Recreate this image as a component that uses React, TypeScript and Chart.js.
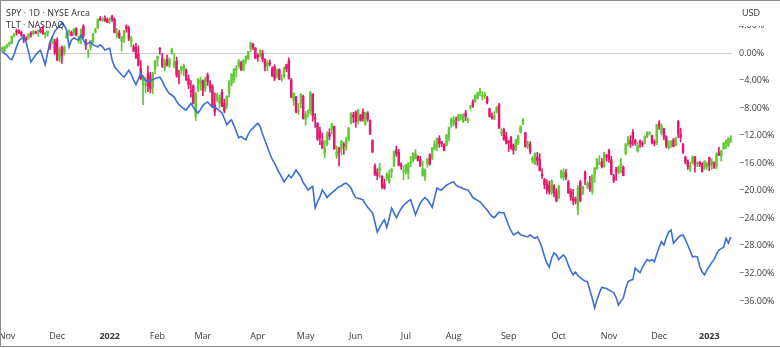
import React, { useEffect, useRef } from 'react';
import { Chart, registerables } from 'chart.js';

Chart.register(...registerables);

// ---- categories: trading days ----
const MONTHS = ['2021-10', '2021-11', '2021-12', '2022-01', '2022-02', '2022-03', '2022-04', '2022-05', '2022-06', '2022-07', '2022-08', '2022-09', '2022-10', '2022-11', '2022-12', '2023-01'];
const MONTH_DAYS = [
  [28, 29],
  [1, 2, 3, 4, 5, 8, 9, 10, 11, 12, 15, 16, 17, 18, 19, 22, 23, 24, 26, 29, 30],
  [1, 2, 3, 6, 7, 8, 9, 10, 13, 14, 15, 16, 17, 20, 21, 22, 23, 27, 28, 29, 30, 31],
  [3, 4, 5, 6, 7, 10, 11, 12, 13, 14, 18, 19, 20, 21, 24, 25, 26, 27, 28, 31],
  [1, 2, 3, 4, 7, 8, 9, 10, 11, 14, 15, 16, 17, 18, 22, 23, 24, 25, 28],
  [1, 2, 3, 4, 7, 8, 9, 10, 11, 14, 15, 16, 17, 18, 21, 22, 23, 24, 25, 28, 29, 30, 31],
  [1, 4, 5, 6, 7, 8, 11, 12, 13, 14, 18, 19, 20, 21, 22, 25, 26, 27, 28, 29],
  [2, 3, 4, 5, 6, 9, 10, 11, 12, 13, 16, 17, 18, 19, 20, 23, 24, 25, 26, 27, 31],
  [1, 2, 3, 6, 7, 8, 9, 10, 13, 14, 15, 16, 17, 21, 22, 23, 24, 27, 28, 29, 30],
  [1, 5, 6, 7, 8, 11, 12, 13, 14, 15, 18, 19, 20, 21, 22, 25, 26, 27, 28, 29],
  [1, 2, 3, 4, 5, 8, 9, 10, 11, 12, 15, 16, 17, 18, 19, 22, 23, 24, 25, 26, 29, 30, 31],
  [1, 2, 6, 7, 8, 9, 12, 13, 14, 15, 16, 19, 20, 21, 22, 23, 26, 27, 28, 29, 30],
  [3, 4, 5, 6, 7, 10, 11, 12, 13, 14, 17, 18, 19, 20, 21, 24, 25, 26, 27, 28, 31],
  [1, 2, 3, 4, 7, 8, 9, 10, 11, 14, 15, 16, 17, 18, 21, 22, 23, 25, 28, 29, 30],
  [1, 2, 5, 6, 7, 8, 9, 12, 13, 14, 15, 16, 19, 20, 21, 22, 23, 27, 28, 29, 30],
  [3, 4, 5, 6, 9, 10, 11, 12, 13, 17],
];
const MONTH_NAMES = ['Jan', 'Feb', 'Mar', 'Apr', 'May', 'Jun', 'Jul', 'Aug', 'Sep', 'Oct', 'Nov', 'Dec'];
const Y_TICKS = [4, 0, -4, -8, -12, -16, -20, -24, -28, -32, -36];
const LEGEND_LINES = ['SPY \u00b7 1D \u00b7 NYSE Arca', 'TLT \u00b7 NASDAQ'];
const CURRENCY = 'USD';

// ---- SPY (% change) ----
const SPY_OPEN = [
  0.3, 0.3, 1.0, 1.3, 1.5, 2.6, 3.2, 3.2, 3.0, 2.6,
  2.1, 2.2, 2.9, 2.8, 3.1, 3.0, 3.4, 3.4, 2.7, 2.7,
  1.4, 1.6, 1.6, 1.9, -0.9, 0.8, 0.1, 2.2, 3.0, 3.0,
  3.0, 3.5, 1.9, 1.9, 3.9, 1.6, -0.2, 0.8, 1.6, 3.0,
  3.6, 5.1, 4.9, 5.0, 4.8, 4.8, 5.3, 4.9, 2.8, 2.9,
  1.7, 2.1, 3.9, 3.6, 1.6, 0.9, 0.8, -0.2, -2.2, -4.6,
  -4.6, -3.0, -3.3, -5.0, -2.3, -0.9, 0.7, -0.7, -2.2, -0.9,
  -1.9, 0.0, -1.7, -1.2, -3.3, -2.5, -2.5, -2.5, -3.7, -5.5,
  -4.8, -9.2, -5.1, -4.4, -4.0, -5.1, -3.2, -4.4, -4.8, -7.6,
  -6.8, -7.3, -5.7, -7.3, -7.7, -5.8, -4.5, -3.9, -2.3, -1.9,
  -1.5, -2.4, -0.9, -0.8, 0.6, 1.3, 0.7, -0.3, -0.4, 0.0,
  -1.0, -1.9, -1.4, -2.3, -2.0, -3.4, -2.4, -3.7, -3.4, -1.7,
  -1.1, -3.9, -6.9, -6.4, -8.4, -7.3, -6.3, -9.6, -8.6, -8.4,
  -6.0, -9.4, -10.2, -11.3, -12.8, -14.5, -13.2, -11.6, -11.1, -10.7,
  -14.9, -13.9, -13.9, -13.3, -13.6, -12.6, -10.2, -9.0, -8.6, -9.8,
  -9.0, -8.6, -10.3, -8.8, -9.8, -12.7, -16.4, -17.3, -17.1, -17.9,
  -19.0, -18.2, -18.8, -17.3, -16.4, -14.0, -14.4, -16.2, -17.1, -17.2,
  -17.4, -16.0, -15.6, -15.3, -15.0, -15.4, -17.8, -18.0, -16.1, -14.8,
  -15.3, -13.9, -13.5, -12.4, -13.0, -13.3, -13.4, -12.1, -10.5, -10.2,
  -10.2, -9.8, -9.1, -10.0, -8.7, -9.6, -7.9, -7.1, -7.0, -6.5,
  -5.9, -6.2, -6.2, -6.5, -8.1, -9.2, -9.6, -8.6, -7.5, -11.6,
  -11.1, -12.1, -12.8, -12.3, -13.4, -14.1, -13.0, -11.5, -10.3, -11.6,
  -13.3, -13.2, -15.7, -16.1, -15.1, -15.4, -17.6, -18.3, -19.0, -19.2,
  -20.3, -19.3, -20.1, -21.0, -18.0, -18.1, -17.4, -18.7, -20.1, -21.0,
  -21.2, -22.7, -18.7, -20.4, -17.3, -19.3, -18.9, -20.1, -17.6, -16.8,
  -16.1, -15.8, -16.4, -14.9, -14.2, -15.5, -17.8, -16.9, -17.3, -16.4,
  -16.6, -14.6, -13.2, -12.7, -11.5, -12.7, -14.2, -12.8, -13.1, -13.0,
  -12.1, -11.7, -12.0, -12.9, -13.0, -10.2, -11.6, -11.0, -12.2, -13.6,
  -13.4, -12.6, -13.4, -10.0, -11.8, -13.3, -15.1, -15.7, -16.9, -16.0,
  -15.1, -16.0, -15.9, -16.1, -16.7, -16.5, -15.2, -16.1, -15.9, -16.4,
  -14.4, -15.0, -13.9, -13.1, -13.4, -12.8,
];
const SPY_HIGH = [
  0.9, 1.0, 1.3, 1.6, 2.5, 2.9, 3.5, 3.4, 3.2, 2.7,
  2.4, 2.8, 3.1, 3.3, 3.2, 3.3, 3.6, 3.9, 3.0, 3.2,
  1.6, 2.4, 2.0, 2.2, 0.8, 1.0, 1.1, 3.1, 3.4, 3.2,
  3.5, 3.7, 2.5, 3.5, 4.1, 2.0, 0.5, 1.8, 2.8, 3.6,
  4.9, 5.3, 5.1, 5.4, 5.1, 5.1, 5.5, 5.1, 3.6, 3.3,
  2.4, 3.3, 4.1, 3.9, 2.4, 1.2, 1.4, 1.0, -1.1, -3.3,
  -3.5, -1.9, -2.8, -2.8, -1.1, -0.4, 0.8, 0.0, -0.9, -0.3,
  -0.7, 0.6, 0.0, -0.6, -2.5, -1.9, -1.6, -2.3, -3.2, -4.0,
  -4.6, -5.7, -3.7, -3.5, -3.9, -3.5, -2.9, -4.0, -4.6, -5.8,
  -5.8, -6.1, -5.3, -6.7, -6.2, -4.0, -3.0, -2.3, -1.8, -0.9,
  -1.2, -1.0, -0.4, 0.2, 1.6, 1.4, 0.8, -0.1, 0.5, 0.4,
  -0.8, -1.1, -1.0, -2.0, -1.7, -2.3, -2.3, -3.1, -2.0, -1.6,
  -0.7, -3.7, -5.8, -6.3, -7.3, -5.9, -6.1, -8.5, -8.2, -5.6,
  -5.9, -8.8, -10.1, -10.8, -11.6, -12.7, -11.4, -11.0, -10.2, -10.6,
  -13.5, -13.7, -12.7, -13.0, -12.2, -10.8, -8.7, -8.6, -8.4, -8.2,
  -8.9, -8.1, -8.6, -8.5, -9.7, -12.6, -16.1, -16.8, -16.0, -17.8,
  -18.3, -17.4, -17.0, -16.7, -14.2, -13.5, -14.0, -15.9, -16.4, -16.2,
  -15.9, -15.0, -14.5, -14.0, -14.9, -15.0, -15.7, -16.8, -15.3, -14.6,
  -13.7, -12.7, -12.3, -12.0, -12.8, -13.2, -11.8, -10.7, -9.4, -9.2,
  -9.3, -8.9, -8.9, -8.8, -8.3, -9.4, -7.6, -6.8, -6.1, -5.7,
  -5.1, -5.6, -5.7, -6.3, -8.0, -8.7, -8.5, -7.8, -7.3, -11.0,
  -10.9, -11.5, -12.7, -12.1, -13.2, -12.5, -11.9, -10.6, -9.5, -11.5,
  -12.8, -12.9, -15.0, -14.5, -14.4, -14.6, -16.8, -18.2, -18.4, -18.6,
  -18.4, -19.1, -19.7, -19.2, -17.0, -16.8, -16.9, -18.5, -19.7, -19.8,
  -20.9, -19.2, -18.5, -19.3, -17.1, -18.6, -17.9, -17.7, -16.6, -15.3,
  -14.9, -15.3, -14.4, -14.7, -14.0, -15.0, -17.6, -16.6, -16.4, -15.3,
  -16.4, -13.1, -12.1, -12.0, -11.1, -12.5, -13.0, -12.6, -12.8, -12.0,
  -11.4, -11.4, -11.9, -12.6, -10.4, -9.8, -10.3, -10.9, -12.0, -12.7,
  -12.7, -12.4, -12.3, -9.8, -10.9, -13.1, -15.0, -15.5, -15.9, -14.9,
  -15.0, -15.8, -15.7, -15.9, -15.6, -15.9, -15.1, -15.3, -15.8, -14.5,
  -13.7, -14.1, -13.0, -12.6, -12.3, -12.0,
];
const SPY_LOW = [
  0.2, 0.1, 0.7, 1.0, 1.3, 2.3, 2.6, 2.8, 2.4, 1.5,
  1.8, 2.0, 2.3, 2.6, 2.8, 2.4, 2.9, 2.7, 2.2, 2.4,
  0.5, 1.3, -0.2, -1.1, -1.3, -1.5, -0.3, 2.1, 2.5, 2.5,
  2.6, 2.5, 1.4, 1.3, 2.2, 0.5, -0.7, 0.4, 1.5, 2.9,
  3.6, 4.7, 4.6, 4.6, 4.4, 4.3, 4.6, 2.9, 2.2, 2.1,
  0.3, 1.5, 3.0, 1.8, 0.9, 0.2, -0.8, -1.9, -3.9, -7.5,
  -5.8, -5.6, -5.8, -5.9, -3.0, -1.9, -0.2, -2.1, -2.6, -1.9,
  -2.1, -0.2, -2.2, -3.5, -4.5, -3.1, -3.3, -4.0, -5.2, -6.4,
  -7.4, -9.8, -5.6, -5.4, -6.2, -5.6, -4.7, -5.7, -7.9, -9.1,
  -7.1, -8.0, -7.8, -8.7, -8.1, -6.4, -4.8, -4.3, -3.5, -2.2,
  -2.5, -2.6, -1.5, -1.0, 0.2, 0.5, -0.8, -1.2, -0.6, -1.3,
  -2.6, -2.6, -1.9, -3.4, -4.0, -3.6, -3.9, -4.1, -3.6, -2.7,
  -3.8, -6.5, -7.6, -8.7, -8.9, -8.0, -9.6, -10.5, -9.3, -8.9,
  -9.9, -10.8, -12.7, -13.3, -13.9, -15.2, -13.5, -12.6, -11.7, -14.0,
  -15.3, -16.4, -14.8, -14.7, -14.1, -12.8, -10.3, -10.1, -10.8, -10.3,
  -9.9, -9.9, -10.5, -9.9, -11.8, -14.5, -17.8, -18.4, -18.1, -19.7,
  -19.8, -18.5, -18.9, -18.1, -16.5, -15.0, -16.4, -16.9, -18.4, -17.6,
  -18.3, -16.5, -15.8, -15.4, -15.7, -16.5, -17.9, -18.5, -16.6, -16.3,
  -15.5, -14.1, -14.2, -13.7, -13.6, -14.2, -13.5, -12.8, -10.8, -10.6,
  -10.9, -9.9, -9.7, -10.1, -9.8, -10.1, -8.3, -7.9, -7.2, -6.7,
  -6.2, -6.8, -6.6, -7.4, -9.3, -9.6, -9.7, -8.7, -11.0, -12.0,
  -12.7, -13.2, -14.3, -14.0, -14.7, -14.2, -13.3, -11.6, -10.4, -13.7,
  -13.9, -14.6, -16.0, -16.2, -16.3, -17.1, -18.2, -19.7, -20.4, -20.5,
  -20.6, -20.9, -21.6, -21.2, -18.2, -18.5, -18.4, -20.4, -21.4, -22.0,
  -21.9, -23.5, -21.6, -20.6, -19.1, -19.7, -20.1, -20.5, -18.8, -16.9,
  -16.2, -16.7, -16.6, -15.7, -15.9, -17.7, -18.8, -18.5, -17.6, -17.4,
  -17.8, -14.8, -13.5, -13.7, -13.4, -13.4, -14.4, -13.7, -13.6, -13.2,
  -12.3, -11.9, -13.2, -13.5, -13.3, -11.1, -11.9, -12.6, -13.8, -14.0,
  -13.7, -13.6, -13.5, -12.3, -12.9, -14.6, -16.1, -16.9, -17.2, -16.1,
  -17.3, -16.5, -16.5, -17.3, -16.9, -16.9, -17.1, -16.9, -16.8, -16.8,
  -14.9, -15.7, -14.0, -13.9, -13.6, -13.0,
];
const SPY_CLOSE = [
  0.7, 0.9, 1.1, 1.5, 2.4, 2.8, 3.0, 3.0, 2.7, 1.9,
  1.9, 2.7, 2.7, 3.1, 2.9, 3.2, 3.1, 2.8, 2.9, 3.2,
  0.9, 2.1, 0.1, -1.0, 0.5, -0.4, 0.8, 2.9, 3.2, 2.5,
  3.5, 2.6, 1.9, 3.4, 2.5, 1.1, 0.0, 1.8, 2.8, 3.4,
  4.9, 4.8, 5.0, 4.7, 4.4, 5.0, 5.0, 3.0, 2.8, 2.4,
  2.3, 3.3, 3.5, 2.1, 2.1, 0.3, -0.7, -1.8, -3.7, -3.3,
  -4.5, -4.8, -5.2, -2.9, -1.1, -0.5, 0.5, -1.9, -1.4, -1.7,
  -0.9, 0.6, -1.3, -3.2, -3.5, -2.0, -1.9, -3.9, -4.6, -5.6,
  -7.3, -5.9, -3.8, -4.0, -5.5, -3.8, -4.2, -5.0, -7.8, -8.5,
  -6.1, -6.5, -7.7, -8.4, -6.3, -4.3, -3.1, -2.3, -2.3, -1.2,
  -2.5, -1.0, -0.5, 0.2, 1.5, 0.8, -0.8, -0.5, 0.4, -0.9,
  -1.9, -1.4, -1.6, -3.3, -3.7, -2.6, -3.8, -3.7, -2.2, -2.3,
  -3.7, -6.4, -5.8, -8.6, -8.3, -6.0, -9.5, -8.9, -8.5, -5.7,
  -9.1, -9.6, -12.5, -12.3, -13.7, -13.8, -11.7, -12.1, -10.3, -13.9,
  -14.4, -14.4, -12.8, -13.4, -12.7, -10.9, -8.7, -9.3, -10.0, -8.3,
  -9.8, -9.5, -8.6, -9.6, -11.8, -14.3, -17.6, -17.8, -16.7, -19.4,
  -19.6, -17.6, -17.7, -16.9, -14.3, -14.6, -16.3, -16.4, -17.1, -16.2,
  -16.1, -15.8, -14.5, -14.6, -15.6, -16.3, -16.8, -17.0, -15.4, -16.1,
  -13.8, -13.2, -12.4, -13.2, -13.1, -14.1, -11.9, -10.8, -9.5, -9.7,
  -10.3, -9.0, -9.0, -9.1, -9.2, -9.6, -7.7, -7.7, -6.1, -5.7,
  -5.6, -6.2, -6.0, -7.2, -9.2, -9.4, -9.1, -7.8, -10.9, -11.5,
  -12.5, -13.1, -12.9, -13.8, -14.1, -12.6, -12.0, -10.6, -9.7, -13.6,
  -13.3, -14.3, -15.3, -14.6, -15.6, -17.1, -17.8, -19.1, -19.9, -20.1,
  -18.6, -20.3, -21.5, -19.4, -17.1, -17.3, -18.0, -20.3, -20.9, -21.4,
  -21.6, -19.6, -21.4, -19.4, -18.4, -19.0, -19.7, -17.7, -16.7, -15.4,
  -16.0, -16.5, -14.5, -15.1, -15.5, -17.6, -18.5, -17.3, -16.5, -16.0,
  -17.8, -13.3, -12.4, -13.2, -12.4, -13.1, -13.4, -13.0, -13.3, -12.1,
  -11.6, -11.6, -13.0, -13.1, -10.4, -10.5, -10.6, -12.2, -13.5, -13.6,
  -12.9, -13.6, -12.3, -11.7, -12.2, -14.4, -15.8, -16.5, -16.4, -15.1,
  -16.3, -15.9, -16.2, -17.2, -15.7, -16.0, -16.3, -15.7, -16.6, -14.7,
  -14.8, -14.2, -13.1, -12.8, -12.4, -12.5,
];

// ---- TLT (% change) ----
const TLT_CLOSE = [
  0.2, -0.1, -0.3, -0.8, -1.0, -0.2, 0.9, 1.8, 2.1, 2.3,
  1.6, 0.2, -1.3, -0.8, -0.3, 0.1, 0.4, -0.6, -1.7, 0.0,
  1.6, 2.4, 3.1, 3.6, 3.9, 4.4, 4.0, 3.3, 0.9, 1.9,
  2.2, 2.0, 1.9, 2.6, 1.9, 1.2, 1.4, 1.6, 1.2, 1.0,
  0.9, 1.2, 0.9, 0.4, 0.6, 0.7, -1.0, -2.0, -2.4, -2.8,
  -3.2, -3.5, -3.0, -2.5, -3.1, -3.9, -4.6, -3.8, -2.9, -3.5,
  -4.0, -4.2, -4.0, -3.9, -3.7, -3.6, -3.5, -4.1, -4.8, -5.4,
  -5.9, -6.1, -6.4, -7.0, -7.5, -7.8, -8.1, -8.3, -7.8, -7.3,
  -7.9, -8.4, -8.7, -8.2, -7.6, -7.3, -7.1, -7.5, -7.9, -7.8,
  -8.1, -8.4, -8.7, -9.5, -10.4, -10.0, -9.7, -10.5, -11.4, -12.3,
  -12.1, -12.4, -12.6, -11.8, -11.2, -10.9, -10.5, -10.2, -10.7, -11.8,
  -12.7, -13.6, -14.6, -15.4, -16.0, -16.7, -17.4, -18.0, -18.7, -18.2,
  -17.7, -18.1, -17.6, -17.0, -17.5, -18.0, -18.8, -19.3, -19.9, -19.6,
  -19.4, -22.5, -21.6, -20.9, -19.9, -20.4, -21.0, -20.6, -20.3, -20.0,
  -19.7, -19.4, -19.3, -19.0, -18.9, -19.2, -19.6, -20.4, -21.0, -21.1,
  -21.2, -21.3, -21.9, -22.4, -22.8, -23.2, -24.5, -26.0, -25.3, -24.7,
  -24.2, -25.3, -24.0, -22.5, -23.2, -23.9, -23.2, -22.6, -22.1, -21.8,
  -21.5, -21.3, -22.4, -23.5, -22.6, -21.8, -21.3, -21.0, -21.3, -21.8,
  -22.4, -21.0, -19.6, -19.8, -19.9, -19.5, -19.2, -19.0, -18.8, -18.7,
  -19.2, -19.4, -19.5, -19.7, -19.8, -19.9, -20.4, -21.0, -21.2, -21.4,
  -21.6, -22.0, -22.4, -22.8, -23.3, -23.7, -23.9, -23.5, -23.1, -23.2,
  -23.2, -24.1, -25.0, -25.8, -26.4, -26.2, -26.0, -26.4, -26.5, -26.6,
  -26.7, -26.4, -26.7, -26.9, -26.7, -27.4, -28.3, -29.5, -30.5, -31.1,
  -29.8, -29.0, -29.3, -30.0, -29.6, -29.3, -29.8, -30.8, -31.6, -32.2,
  -31.8, -32.3, -32.6, -32.9, -33.1, -33.2, -34.4, -35.6, -37.0, -35.8,
  -34.8, -34.0, -34.1, -34.2, -34.4, -34.6, -34.8, -35.5, -36.6, -36.0,
  -35.6, -34.2, -33.2, -33.0, -32.9, -31.2, -31.6, -31.9, -31.1, -30.5,
  -30.0, -30.2, -30.0, -30.3, -29.2, -28.2, -27.4, -27.9, -26.8, -26.0,
  -25.7, -27.6, -27.2, -26.8, -26.5, -26.4, -27.1, -27.9, -28.7, -29.6,
  -29.5, -29.6, -31.0, -31.8, -32.2, -31.5, -31.0, -30.4, -30.0, -29.2,
  -28.6, -28.4, -28.2, -26.9, -27.6, -26.7,
];

const FONT = "'Open Sans', 'Noto Sans', sans-serif";
const UP = '#62c936';
const DOWN = '#e3186e';
const LINE = '#3c6fd6';

const DATES: string[] = [];
MONTHS.forEach((m, k) => MONTH_DAYS[k].forEach((d) => DATES.push(m + '-' + String(d).padStart(2, '0'))));

function xTickLabel(i: number): string {
  if (i <= 0) return '';
  const [y, m] = DATES[i].split('-');
  const pm = DATES[i - 1].split('-')[1];
  if (m === pm) return '';
  return m === '01' ? y : MONTH_NAMES[Number(m) - 1];
}

function pctLabel(v: number): string {
  if (v === 0) return '0.00%';
  return (v < 0 ? '\u2212' : '') + Math.abs(v).toFixed(2) + '%';
}

const overlayPlugin = {
  id: 'tvOverlay',
  afterDraw(chart: any) {
    const c = chart.ctx as CanvasRenderingContext2D;
    const right = chart.chartArea.right;
    c.save();
    c.fillStyle = '#ffffff';
    c.fillRect(right + 1, 0, chart.width - right, 25);
    c.fillStyle = '#2f2f2f';
    c.font = `9px ${FONT}`;
    c.textBaseline = 'middle';
    c.textAlign = 'left';
    c.fillText(CURRENCY, right + 10, 12);
    c.fillText(LEGEND_LINES[0], 5, 12);
    c.fillText(LEGEND_LINES[1], 5, 24.5);
    c.restore();
  },
};

export default function App() {
  const ref = useRef<HTMLCanvasElement>(null);

  useEffect(() => {
    if (!ref.current) return;
    const colors = SPY_CLOSE.map((c, i) => (c >= SPY_OPEN[i] ? UP : DOWN));
    const bodies = SPY_OPEN.map((o, i) => [o, SPY_CLOSE[i]]);
    const wicks = SPY_LOW.map((l, i) => [l, SPY_HIGH[i]]);

    const chart = new Chart(ref.current, {
      type: 'bar',
      data: {
        labels: DATES,
        datasets: [
          {
            type: 'line',
            label: 'TLT',
            data: TLT_CLOSE,
            borderColor: LINE,
            borderWidth: 1.6,
            pointRadius: 0,
            tension: 0,
            order: 0,
          } as any,
          {
            type: 'bar',
            label: 'SPY wick',
            data: wicks,
            backgroundColor: colors,
            barThickness: 1,
            grouped: false,
            order: 2,
          } as any,
          {
            type: 'bar',
            label: 'SPY body',
            data: bodies,
            backgroundColor: colors,
            barThickness: 1.8,
            minBarLength: 1,
            grouped: false,
            order: 1,
          } as any,
        ],
      },
      options: {
        responsive: false,
        animation: false,
        devicePixelRatio: 1,
        events: [],
        layout: { padding: 0 },
        plugins: { legend: { display: false }, tooltip: { enabled: false } },
        scales: {
          x: {
            type: 'category',
            offset: true,
            grid: { display: false, drawTicks: false },
            border: { display: false },
            afterFit: (s: any) => {
              s.height = 22;
              s.paddingLeft = 0;
              s.paddingRight = 0;
            },
            ticks: {
              autoSkip: false,
              maxRotation: 0,
              minRotation: 0,
              padding: 7,
              color: '#3a3a3a',
              font: (ctx: any) => ({
                family: FONT,
                size: 9,
                weight: ctx.tick && /^\d{4}$/.test(String(ctx.tick.label)) ? 'bold' : 'normal',
              }),
              callback: (_v: any, i: number) => xTickLabel(i),
            },
          },
          y: {
            position: 'right',
            min: -39.34,
            max: 7.55,
            afterBuildTicks: (s: any) => {
              s.ticks = Y_TICKS.map((v) => ({ value: v }));
            },
            afterFit: (s: any) => {
              s.width = 48;
              s.paddingTop = 0;
              s.paddingBottom = 0;
            },
            grid: {
              drawTicks: false,
              lineWidth: 1,
              color: (ctx: any) => (ctx.tick && ctx.tick.value === 0 ? '#cdcdcd' : 'rgba(0,0,0,0)'),
            },
            border: { display: false },
            ticks: {
              padding: 7,
              color: '#3a3a3a',
              font: { family: FONT, size: 9 },
              callback: (v: any) => pctLabel(Number(v)),
            },
          },
        },
      } as any,
      plugins: [overlayPlugin],
    });
    return () => chart.destroy();
  }, []);

  return (
    <div
      style={{
        position: 'fixed',
        left: 0,
        top: 0,
        width: 780,
        height: 347,
        boxSizing: 'border-box',
        borderTop: '1px solid #8c8c8c',
        borderLeft: '1px solid #8c8c8c',
        borderBottom: '1px solid #8c8c8c',
        background: '#ffffff',
      }}
    >
      <canvas ref={ref} width={779} height={345} style={{ display: 'block', width: 779, height: 345 }} />
    </div>
  );
}
